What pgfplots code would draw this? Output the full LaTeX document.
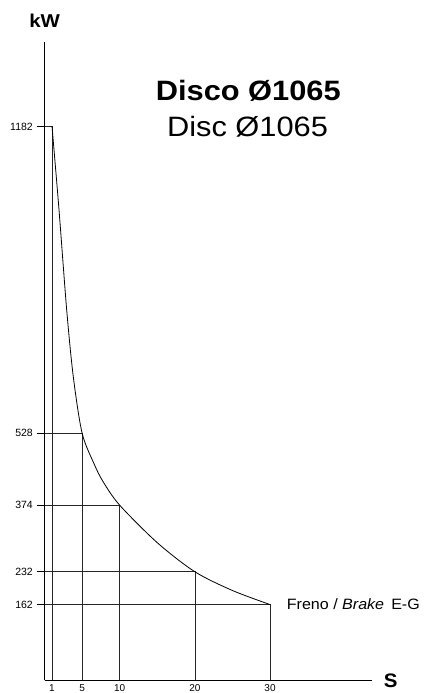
\documentclass[border=0pt]{standalone}
\usepackage{pgfplots}
\pgfplotsset{compat=1.18}
\usepackage{fontspec}
\setmainfont{Liberation Sans}
\begin{document}
\begin{tikzpicture}[x=1bp,y=1bp]
\path[use as bounding box] (0,0) rectangle (426,693);
\begin{axis}[
  at={(44.5bp,12.5bp)}, anchor=origin,
  scale only axis, width=327bp, height=638bp,
  xmin=0, xmax=43.5, ymin=0, ymax=1361,
  axis lines=left,
  axis line style={-, line width=0.8bp, black},
  clip=false,
  xtick={1,5,10,20,30},
  ytick={162,232,374,528,1182},
  tick align=outside,
  major tick length=8bp,
  ytick style={line width=0.8bp, black},
  xtick style={draw=none},
  /pgf/number format/assume math mode=true,
  /pgf/number format/1000 sep={},
  ticklabel style={font=\fontsize{10.5bp}{12bp}\selectfont, inner sep=0pt},
  yticklabel style={xshift=-3.5bp},
  xticklabel style={yshift=4.2bp, font=\fontsize{10bp}{11bp}\selectfont},
]
\addplot[black!85, line width=0.7bp] coordinates {(0,1182) (1,1182) (1,0)};
\addplot[black!85, line width=0.7bp] coordinates {(0,528) (5,528) (5,0)};
\addplot[black!85, line width=0.7bp] coordinates {(0,374) (10,374) (10,0)};
\addplot[black!85, line width=0.7bp] coordinates {(0,232) (20,232) (20,0)};
\addplot[black!85, line width=0.7bp] coordinates {(0,162) (30,162) (30,0)};
\addplot[black, line width=0.8bp, smooth, tension=0.5] coordinates {
  (1,1182) (1.93,1004) (2.95,791) (3.83,648) (5,528) (6.6,462) (7.8,424) (10,374)
  (15,294) (20,232) (25,192) (30,162)};
\end{axis}
\node[anchor=base, inner sep=0pt, xscale=1.1, font=\bfseries\fontsize{28bp}{32bp}\selectfont] at (248.3,592) {Disco Ø1065};
\node[anchor=base, inner sep=0pt, xscale=1.1, font=\fontsize{28bp}{32bp}\selectfont] at (247.5,556.3) {Disc Ø1065};
\node[anchor=base, inner sep=0pt, xscale=1.1, font=\bfseries\fontsize{18.6bp}{22bp}\selectfont] at (44.7,665.3) {kW};
\node[anchor=base, inner sep=0pt, xscale=1.05, font=\bfseries\fontsize{19.5bp}{22bp}\selectfont] at (390.8,5.7) {S};
\node[anchor=base west, inner sep=0pt, xscale=1.07, font=\fontsize{15bp}{18bp}\selectfont] at (286.7,83) {Freno / \textit{Brake}\, E-G};
\end{tikzpicture}
\end{document}
